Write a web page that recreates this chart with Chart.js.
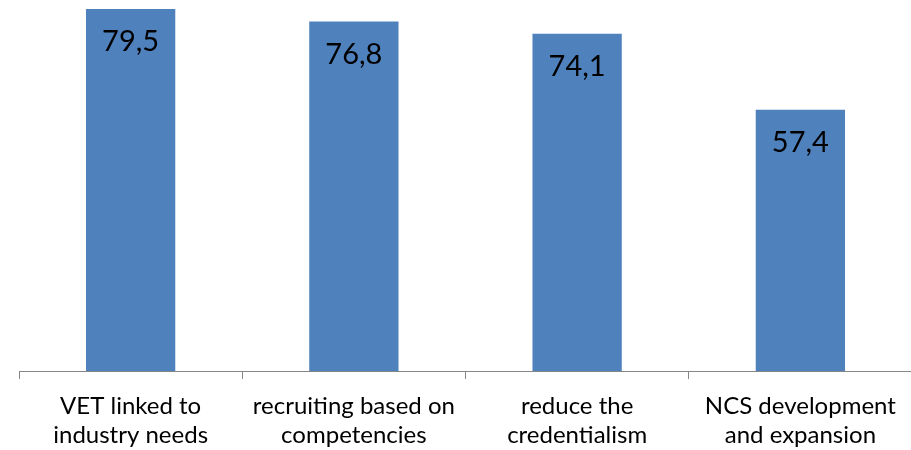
<!DOCTYPE html>
<html>
<head>
<meta charset="utf-8">
<script src="https://cdn.jsdelivr.net/npm/chart.js@4/dist/chart.umd.min.js"></script>
<style>
  html, body { margin: 0; padding: 0; background: #fff; overflow: hidden; }
  #wrap { width: 912px; height: 450px; }
</style>
</head>
<body>
<div id="wrap"><canvas id="myChart"></canvas></div>
<script>
var categories = [
    ["VET linked to", "industry needs"],
    ["recruiting based on", "competencies"],
    ["reduce the", "credentialism"],
    ["NCS development", "and expansion"]
];
var values = [79.5, 76.8, 74.1, 57.4];
var valueLabels = ["79,5", "76,8", "74,1", "57,4"];

// draws the value text inside each bar, near its top
var barLabels = {
    id: 'barLabels',
    afterDatasetsDraw: function(chart) {
        var ctx = chart.ctx;
        var meta = chart.getDatasetMeta(0);
        ctx.save();
        ctx.fillStyle = '#000';
        ctx.font = '29px Lato';
        ctx.textAlign = 'center';
        ctx.textBaseline = 'middle';
        meta.data.forEach(function(bar, i) {
            ctx.fillText(valueLabels[i], bar.x, bar.y + 33);
        });
        ctx.restore();
    }
};

new Chart(document.getElementById("myChart"), {
    type: 'bar',
    data: {
        labels: categories,
        datasets: [{
            data: values,
            backgroundColor: '#4F81BD',
            borderWidth: 0,
            categoryPercentage: 1,
            barPercentage: 0.4
        }]
    },
    options: {
        responsive: true,
        maintainAspectRatio: false,
        animation: false,
        layout: { padding: { left: 19, right: 0, top: 0, bottom: 0 } },
        plugins: {
            legend: { display: false },
            tooltip: { enabled: false }
        },
        scales: {
            x: {
                afterFit: function(scale) { scale.height = 79; },
                grid: {
                    offset: true,
                    drawOnChartArea: false,
                    drawTicks: true,
                    tickLength: 8,
                    color: '#868686'
                },
                border: { display: true, color: '#868686' },
                ticks: {
                    color: '#000',
                    font: { family: 'Lato', size: 24, lineHeight: 1.2 },
                    padding: 13,
                    maxRotation: 0,
                    autoSkip: false
                }
            },
            y: {
                display: false,
                min: 0,
                max: 81.5
            }
        }
    },
    plugins: [barLabels]
});
</script>
</body>
</html>
